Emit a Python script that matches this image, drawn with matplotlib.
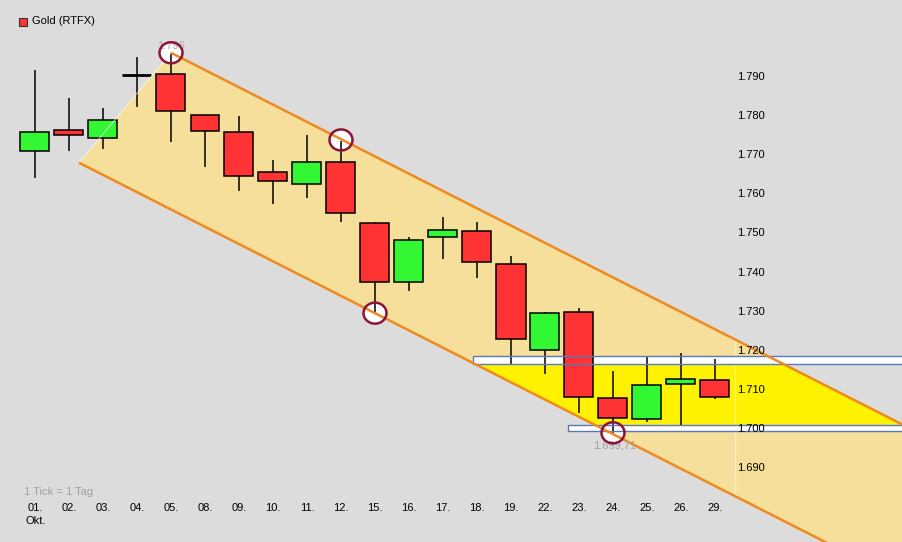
import matplotlib
matplotlib.use("Agg")
import matplotlib.pyplot as plt
from matplotlib.patches import Ellipse, Polygon, Rectangle
import numpy as np

plt.rcParams['font.family'] = ['Liberation Sans', 'DejaVu Sans']

# ---------------- data ----------------
dates = ['01.', '02.', '03.', '04.', '05.', '08.', '09.', '10.', '11.', '12.', '15.',
         '16.', '17.', '18.', '19.', '22.', '23.', '24.', '25.', '26.', '29.']
opens = [1.7711, 1.7764, 1.7744, 1.7906, 1.7907, 1.7802, 1.7759, 1.7657, 1.7626, 1.7683, 1.7526,
         1.7375, 1.7490, 1.7505, 1.7421, 1.7201, 1.7298, 1.7078, 1.7025, 1.7114, 1.7124]
highs = [1.7918, 1.7846, 1.7821, 1.7951, 1.7962, 1.7802, 1.7800, 1.7688, 1.7752, 1.7737, 1.7529,
         1.7490, 1.7542, 1.7529, 1.7442, 1.7299, 1.7309, 1.7148, 1.7185, 1.7193, 1.7179]
lows = [1.7642, 1.7711, 1.7716, 1.7823, 1.7735, 1.7671, 1.7609, 1.7575, 1.7591, 1.7529, 1.7296,
        1.7353, 1.7435, 1.7386, 1.7166, 1.7140, 1.7041, 1.6990, 1.7018, 1.7009, 1.7077]
closes = [1.7759, 1.7751, 1.7790, 1.7906, 1.7812, 1.7761, 1.7646, 1.7633, 1.7683, 1.7551, 1.7375,
          1.7482, 1.7508, 1.7426, 1.7229, 1.7296, 1.7081, 1.7027, 1.7111, 1.7127, 1.7081]
ytick_values = [1.690, 1.700, 1.710, 1.720, 1.730, 1.740, 1.750, 1.760, 1.770, 1.780, 1.790]
ytick_labels = ['1.690', '1.700', '1.710', '1.720', '1.730', '1.740', '1.750', '1.760', '1.770', '1.780', '1.790']

# trend channel (upper line through high of 05., lower line through low of 15.)
channel_upper_anchor = (4, 1.7962)
channel_lower_anchor = (10, 1.7296)
channel_slope = -0.00442
channel_lower_start = 1.294
# support / resistance zones
zone_upper = (12.88, 1.7165, 1.7186)
zone_lower = (15.67, 1.6995, 1.7011)
# marked extremes
marked_points = [(4, 1.7962), (9, 1.7739), (10, 1.7296), (17, 1.6990)]
top_label = '1.796'
bottom_label = '1.699,71'

# ---------------- figure ----------------
W, H = 903, 542
fig = plt.figure(figsize=(W / 100, H / 100), dpi=100)
fig.patch.set_facecolor('#DCDCDC')
ax = fig.add_axes([0, 0, 1, 1])
ax.set_facecolor('#DCDCDC')

X0, DX = 35, 34.0
YREF, VREF, PPU = 77, 1.790, 3910.0
xmin, xmax = -X0 / DX, (W - X0) / DX
ymax = VREF + YREF / PPU
ymin = VREF - (H - YREF) / PPU
ax.set_xlim(xmin, xmax)
ax.set_ylim(ymin, ymax)
ax.axis('off')


def px(xp):
    return (xp - X0) / DX


def py(yp):
    return VREF - (yp - YREF) / PPU


def upper(x):
    return channel_upper_anchor[1] + channel_slope * (x - channel_upper_anchor[0])


def lower(x):
    return channel_lower_anchor[1] + channel_slope * (x - channel_lower_anchor[0])


def lower_x(y):
    return channel_lower_anchor[0] + (y - channel_lower_anchor[1]) / channel_slope


def upper_x(y):
    return channel_upper_anchor[0] + (y - channel_upper_anchor[1]) / channel_slope


xr = xmax + 1
# channel fill
chan = Polygon([(channel_lower_start, lower(channel_lower_start)),
                (channel_upper_anchor[0], upper(channel_upper_anchor[0])),
                (xr, upper(xr)), (xr, lower(xr))],
               closed=True, facecolor='#F5DF9B', edgecolor='none', zorder=1)
ax.add_patch(chan)

# yellow zone between the two bands inside the channel
yt, yb = zone_upper[1], zone_lower[2]
ypoly = Polygon([(lower_x(yt), yt), (upper_x(yt), yt), (upper_x(yb), yb), (lower_x(yb), yb)],
                closed=True, facecolor='#FFF200', edgecolor='none', zorder=1.5)
ax.add_patch(ypoly)

# bands (fill below candles, outline above)
for (x0, y0, y1) in (zone_upper, zone_lower):
    ax.add_patch(Rectangle((x0, y0), xr - x0, y1 - y0, facecolor='white', edgecolor='none', zorder=2))
    ax.add_patch(Rectangle((x0, y0), xr - x0, y1 - y0, facecolor='none', edgecolor='#5A78C0',
                           lw=1.0, zorder=6))

# faint vertical line at price scale (only visible inside the channel)
vl = ax.axvline(px(735), color='white', alpha=0.4, lw=1.0, zorder=2.5)
vl.set_clip_path(chan)

# circles (white fill)
for (cx, cy) in marked_points:
    ax.add_patch(Ellipse((cx, cy), 23 / DX, 21 / PPU, facecolor='white', edgecolor='none', zorder=2.6))

# candles
x = np.arange(len(dates))
bw = 29 / DX
for i in range(len(dates)):
    ax.vlines(x[i], lows[i], highs[i], color='black', lw=1.1, zorder=3)
    o, c = opens[i], closes[i]
    if abs(c - o) < 1e-9:
        ax.hlines(o, x[i] - bw / 2, x[i] + bw / 2, color='black', lw=2.0, zorder=4)
    else:
        col = '#33F733' if c > o else '#FF3333'
        ax.bar(x[i], c - o, bottom=o, width=bw, color=col, edgecolor='black', lw=1.1, zorder=4)

# thin light edge of channel start
ax.plot([channel_lower_start, channel_upper_anchor[0]],
        [lower(channel_lower_start), upper(channel_upper_anchor[0])],
        color='white', lw=0.7, alpha=0.7, zorder=5)

# channel lines
ax.plot([channel_upper_anchor[0], xr], [upper(channel_upper_anchor[0]), upper(xr)],
        color='#EE8A1E', lw=1.8, zorder=7, solid_capstyle='butt')
ax.plot([channel_lower_start, xr], [lower(channel_lower_start), lower(xr)],
        color='#EE8A1E', lw=1.8, zorder=7, solid_capstyle='butt')

# circle outlines
for (cx, cy) in marked_points:
    ax.add_patch(Ellipse((cx, cy), 23 / DX, 21 / PPU, facecolor='none', edgecolor='#8B1538',
                         lw=1.8, zorder=8))

# extreme labels
ax.text(px(157), py(46), top_label, fontsize=8, color='#A8A8A8', ha='left', va='center', zorder=7.5)
ax.text(px(593), py(446), bottom_label, fontsize=8, color='#A0A0A0', ha='left', va='center', zorder=7.5)

# y tick labels
for v, lab in zip(ytick_values, ytick_labels):
    ax.text(px(737), v, lab, fontsize=8, color='black', ha='left', va='center', zorder=9)

# x tick labels
for i, d in enumerate(dates):
    ax.text(x[i], py(508), d, fontsize=8, color='black', ha='center', va='center', zorder=9)
ax.text(px(26), py(520.5), 'Okt.', fontsize=8, color='black', ha='left', va='center', zorder=9)

ax.text(px(24), py(492), '1 Tick = 1 Tag', fontsize=8, color='#A0A0A0', ha='left', va='center', zorder=9)

# legend
ax.add_patch(Rectangle((px(19), py(26)), 8 / DX, 8 / PPU, facecolor='#FF3333', edgecolor='#333333',
                       lw=0.8, zorder=9))
ax.text(px(32), py(21.5), 'Gold (RTFX)', fontsize=8, color='black', ha='left', va='center', zorder=9)

fig.savefig('out.png', dpi=100, facecolor=fig.get_facecolor())
